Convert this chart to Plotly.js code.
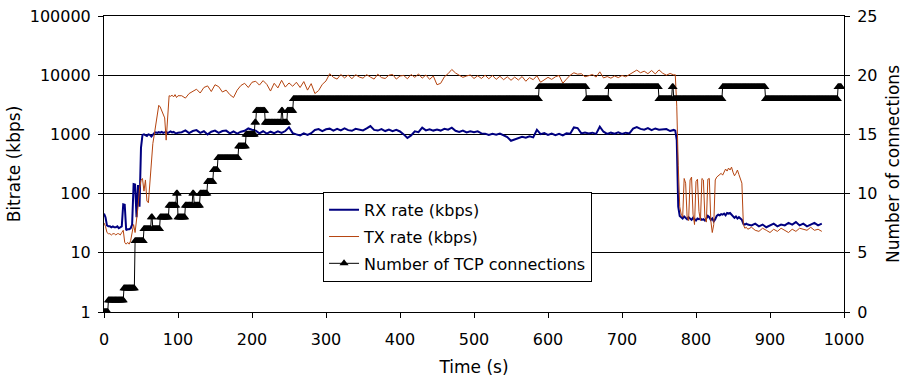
<!DOCTYPE html>
<html>
<head>
<meta charset="utf-8">
<script src="https://cdn.plot.ly/plotly-3.0.1.min.js"></script>
<style>html,body{margin:0;padding:0;background:#fff;}#chart{width:908px;height:381px;}</style>
</head>
<body>
<div id="chart"></div>
<script>
// Time axis for bitrate samples (s)
const rateTime = [
  0,2,4,6,8,10,12,14,16,18,20,22,24,26,28,30,32,34,36,38,40,42,44,46,48,50,
  52,54,56,58,60,62,64,66,68,70,72,74,76,78,80,82,84,86,88,90,92,94,96,98,100,
  105,110,115,120,125,130,135,140,145,150,
  155,160,165,170,175,180,185,190,195,200,
  205,210,215,220,225,230,235,240,245,250,
  255,260,265,270,275,280,285,290,295,300,
  305,310,315,320,325,330,335,340,345,350,
  355,360,365,370,375,380,385,390,395,400,
  405,410,415,420,425,430,435,440,445,450,
  455,460,465,470,475,480,485,490,495,500,
  505,510,515,520,525,530,535,540,545,550,
  555,560,565,570,575,580,585,590,595,600,
  605,610,615,620,625,630,635,640,645,650,
  655,660,665,670,675,680,685,690,695,700,
  705,710,715,720,725,730,735,740,745,750,
  755,760,765,770,
  772,774,776,778,780,782,784,786,788,790,
  792,794,796,798,800,802,804,806,808,810,
  812,814,816,818,820,822,824,826,828,830,
  832,834,836,838,840,842,844,846,848,850,
  852,854,856,858,860,862,864,866,868,870,
  875,880,885,890,895,900,905,910,915,920,
  925,930,935,940,945,950,955,960,965,970
];

// RX rate (kbps)
const rxRate = [
  46,40,29,28,28,27,28,27,27,28,26,27,28,66,65,24,25,25,26,30,145,142,40,140,60,600,
  980,1000,960,940,1000,980,920,1000,1050,1080,1060,1090,1070,1100,1060,1080,1100,1050,1090,1120,1080,1100,1060,1040,1070,
  1090,1170,1050,1140,1180,1060,1130,1000,1110,1160,
  1060,1140,1160,1040,1120,1030,1110,1150,1260,1200,
  1160,1040,1130,1030,1110,1050,1130,1060,1140,1320,
  1050,1000,960,1040,980,1050,1190,1230,1140,1220,
  1250,1160,1240,1170,1260,1180,1150,1240,1200,1170,
  1260,1380,1190,1160,1230,1140,1210,1130,1190,1120,
  1000,870,960,1130,1090,1300,1170,1220,1160,1210,
  1160,1240,1200,1300,1150,1100,1160,1080,1130,1090,
  1130,1040,1030,980,1020,990,1030,960,900,780,
  820,860,910,880,930,890,1200,1010,1050,980,
  1030,970,1020,960,1040,1030,1310,1280,1040,1080,
  1040,1070,1020,1350,1110,1020,1070,1030,1080,1020,
  1070,1040,1250,1330,1240,1200,1280,1180,1260,1200,
  1210,1230,1140,1190,
  1160,800,60,42,40,38,41,39,37,40,
  38,36,39,37,35,38,37,38,36,37,
  35,38,42,40,36,38,34,37,42,44,
  43,45,44,46,43,47,46,47,44,41,
  39,41,38,40,38,36,31,30,31,30,
  29,31,28,30,27,29,31,28,30,29,
  32,30,33,29,31,28,30,32,29,31
];

// TX rate (kbps)
const txRate = [
  32,28,22,21,21,20,21,21,20,21,21,20,22,24,15,14,15,14,16,24,30,22,35,60,120,170,
  180,110,170,75,70,150,240,700,1000,1500,2400,3100,2900,2500,2100,1900,800,2200,4500,4400,4600,4300,4700,4200,4500,
  4500,4100,4900,5400,5800,5000,6200,6600,5300,6900,
  6400,5200,5600,4700,4200,5600,6700,7300,6200,7600,
  7900,6800,8100,7000,5400,7300,6100,8200,6300,7400,
  6500,7600,6200,7800,5600,7200,4900,5500,7000,8000,
  10600,9200,8600,10300,9000,10100,8700,10200,9300,8900,
  10200,9300,8600,10400,9100,8800,10000,10300,8600,9700,
  9900,8700,10300,9200,10500,8900,10100,8500,9700,6900,
  7300,9400,10600,12500,10900,10000,9200,9700,10100,8800,
  9800,8800,10000,8700,9900,8500,9600,8400,9400,8200,
  9300,8300,9500,7900,9100,8400,9800,7600,8500,9200,
  8500,9400,9900,7300,8600,10000,11000,10400,10600,9400,
  9800,10300,9300,11400,9000,9500,8900,9700,9100,9900,
  9400,10200,11300,12200,11000,11700,10600,12000,10500,12300,
  10800,10000,10700,10100,
  10200,3000,300,60,45,40,180,150,40,35,
  170,190,45,30,160,175,50,35,180,170,
  40,33,175,180,35,22,30,170,190,200,
  210,220,205,230,260,240,270,250,280,230,
  200,220,250,210,180,150,30,26,27,25,
  27,24,23,26,24,22,25,23,26,24,
  22,25,23,26,25,24,27,24,25,23
];

// Number of TCP connections: level changes (time in s, level held until next change)
const connStart = [0,6,27,42,54,64,66,76,88,98,100,110,120,122,130,140,148,154,182,192,204,206,218,240,242,248,256,588,652,682,750,768,770,836,894,992];
const connLevel = [0,1,2,6,7,8,7,8,9,10,8,9,10,9,10,11,12,13,14,15,16,17,16,17,16,17,18,19,18,19,18,19,18,19,18,19];
const connSampleStep = 1;
const connLastTime = 996;

// Axis tick labels
const leftTickVals = [1,10,100,1000,10000,100000];
const leftTickText = ['1','10','100','1000','10000','100000'];

// Build connection sample series from the level table
const connTime = [], connCount = [];
for (let t = 0, k = 0; t <= connLastTime; t += connSampleStep) {
  while (k + 1 < connStart.length && connStart[k + 1] <= t) k++;
  connTime.push(t);
  connCount.push(connLevel[k]);
}

const FONT = 'DejaVu Sans, Arial, sans-serif';

const traces = [
  {x: rateTime, y: rxRate, type: 'scatter', mode: 'lines', name: 'RX rate (kbps)',
   line: {color: '#000080', width: 2}, legendgroup: 'a'},
  {x: rateTime, y: txRate, type: 'scatter', mode: 'lines', name: 'TX rate (kbps)',
   line: {color: '#B5440F', width: 1}, legendgroup: 'b'},
  {x: connTime, y: connCount, type: 'scatter', mode: 'lines+markers', name: 'Number of TCP connections',
   yaxis: 'y2', line: {color: '#000000', width: 1},
   marker: {symbol: 'triangle-up', size: 8, color: '#000000'}, legendgroup: 'c'}
];

const layout = {
  width: 908, height: 381,
  margin: {l: 104, r: 64, t: 16, b: 69},
  paper_bgcolor: '#ffffff', plot_bgcolor: '#ffffff',
  font: {family: FONT, size: 16, color: '#000'},
  showlegend: true,
  legend: {x: 0.296, y: 0.406, xanchor: 'left', yanchor: 'top',
           bgcolor: '#ffffff', bordercolor: '#000', borderwidth: 1,
           font: {family: FONT, size: 16, color: '#000'},
           itemwidth: 30, traceorder: 'grouped', tracegroupgap: 3},
  xaxis: {range: [0, 1000], dtick: 100, tick0: 0, ticks: 'outside', ticklen: 5, tickcolor: '#000',
          showline: true, linecolor: '#000', linewidth: 1, mirror: true,
          showgrid: false, zeroline: false, ticklabelstandoff: 8,
          tickfont: {family: FONT, size: 16, color: '#000'},
          title: {text: 'Time (s)', font: {family: FONT, size: 17, color: '#000'}, standoff: 12}},
  yaxis: {type: 'log', range: [0, 5], tickvals: leftTickVals, ticktext: leftTickText,
          ticks: 'outside', ticklen: 5, tickcolor: '#000',
          showline: true, linecolor: '#000', linewidth: 1, ticklabelstandoff: 4,
          showgrid: true, gridcolor: '#000', gridwidth: 1, zeroline: false,
          tickfont: {family: FONT, size: 16, color: '#000'},
          title: {text: 'Bitrate (kbps)', font: {family: FONT, size: 17, color: '#000'}, standoff: 4}},
  yaxis2: {overlaying: 'y', side: 'right', range: [0, 25], dtick: 5, tick0: 0,
           ticks: 'outside', ticklen: 5, tickcolor: '#000',
           showline: true, linecolor: '#000', linewidth: 1, ticklabelstandoff: 4,
           showgrid: false, zeroline: false,
           tickfont: {family: FONT, size: 16, color: '#000'},
           title: {text: 'Number of connections', font: {family: FONT, size: 17, color: '#000'}, standoff: 10}}
};

Plotly.newPlot('chart', traces, layout, {displayModeBar: false, staticPlot: true});
</script>
</body>
</html>
